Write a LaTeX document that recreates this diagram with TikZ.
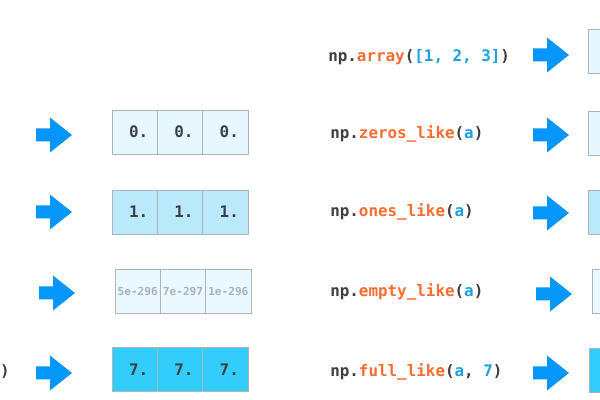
\documentclass[tikz,border=0pt]{standalone}
\usepackage{fontspec}
\setmonofont{DejaVu Sans Mono}
\usepackage{xcolor}
\usetikzlibrary{positioning}
\definecolor{codegray}{RGB}{60,62,66}
\definecolor{funcorange}{RGB}{250,108,48}
\definecolor{argblue}{RGB}{30,160,225}
\definecolor{arrowblue}{RGB}{5,150,250}
\definecolor{cellline}{RGB}{175,180,185}
\definecolor{zerofill}{RGB}{230,247,255}
\definecolor{onefill}{RGB}{185,233,251}
\definecolor{emptyfill}{RGB}{234,248,255}
\definecolor{fullfill}{RGB}{50,205,250}
\definecolor{numgray}{RGB}{60,64,70}
\definecolor{emptygray}{RGB}{172,178,184}

\newcommand{\npcall}[2]{np.\textcolor{funcorange}{#1}(#2)}
\newcommand{\argb}[1]{\textcolor{argblue}{#1}}
% one row of three cells: name, x, y, style, values
\newcommand{\cellrow}[7]{%
\node[#4] (#1a) at (#2,#3) {#5};
\node[#4,right=0pt of #1a] (#1b) {#6};
\node[#4,right=0pt of #1b] (#1c) {#7};}

\tikzset{
pics/bluearrow/.style={code={
\fill[arrowblue] (-18,-6.5) -- (-4,-6.5) -- (-4,-17.5) -- (18,0)
 -- (-4,17.5) -- (-4,6.5) -- (-18,6.5) -- cycle;}},
code/.style={anchor=west,inner sep=0pt,text=codegray,
 font=\ttfamily\bfseries\fontsize{11.3}{13}\selectfont},
cell/.style={draw=cellline,line width=0.6pt,minimum width=1.133cm,
 minimum height=1.1cm,inner sep=0pt,outer sep=0pt},
numcell/.style={cell,text=numgray,text width=0.675cm,align=right,
 font=\ttfamily\bfseries\fontsize{11.3}{13}\selectfont},
zerocell/.style={numcell,fill=zerofill},
onecell/.style={numcell,fill=onefill},
fullcell/.style={numcell,fill=fullfill},
emptycell/.style={cell,fill=emptyfill,text=emptygray,
 font=\ttfamily\bfseries\fontsize{7.9}{10}\selectfont}
}

\begin{document}
\begin{tikzpicture}[x=0.025cm,y=-0.025cm]
\fill[white] (0,0) rectangle (600,400);
\clip (0,0) rectangle (600,400);

% code column
\node[code] (carray) at (328,57) {\npcall{array}{\argb{[1, 2, 3]}}};
\node[code] (czeros) at (330,134) {\npcall{zeros\_like}{\argb{a}}};
\node[code] (cones) at (330,212) {\npcall{ones\_like}{\argb{a}}};
\node[code] (cempty) at (330,292) {\npcall{empty\_like}{\argb{a}}};
\node[code] (cfull) at (330,372) {\npcall{full\_like}{\argb{a}, \argb{7}}};
\node[code,anchor=east] (lparen) at (10,372) {)};

% left arrays
\cellrow{zl}{134.7}{132}{zerocell}{0.}{0.}{0.}
\cellrow{ol}{134.7}{212}{onecell}{1.}{1.}{1.}
\cellrow{el}{137.7}{291}{emptycell}{5e-296}{7e-297}{1e-296}
\cellrow{fl}{134.7}{369.5}{fullcell}{7.}{7.}{7.}

% right arrays (cut at the edge)
\node[zerocell] (ar) at (610.7,51) {};
\node[zerocell] (zr) at (610.7,133.5) {};
\node[onecell] (or) at (610.7,212.5) {};
\node[emptycell] (er) at (614.7,291) {};
\node[fullcell] (fr) at (611.7,370) {};

% arrows
\pic at (54,135) {bluearrow};
\pic at (54,212) {bluearrow};
\pic at (57,293) {bluearrow};
\pic at (54,373) {bluearrow};
\pic at (551,55) {bluearrow};
\pic at (551,135) {bluearrow};
\pic at (551,213) {bluearrow};
\pic at (554,294) {bluearrow};
\pic at (551,373) {bluearrow};
\end{tikzpicture}
\end{document}
